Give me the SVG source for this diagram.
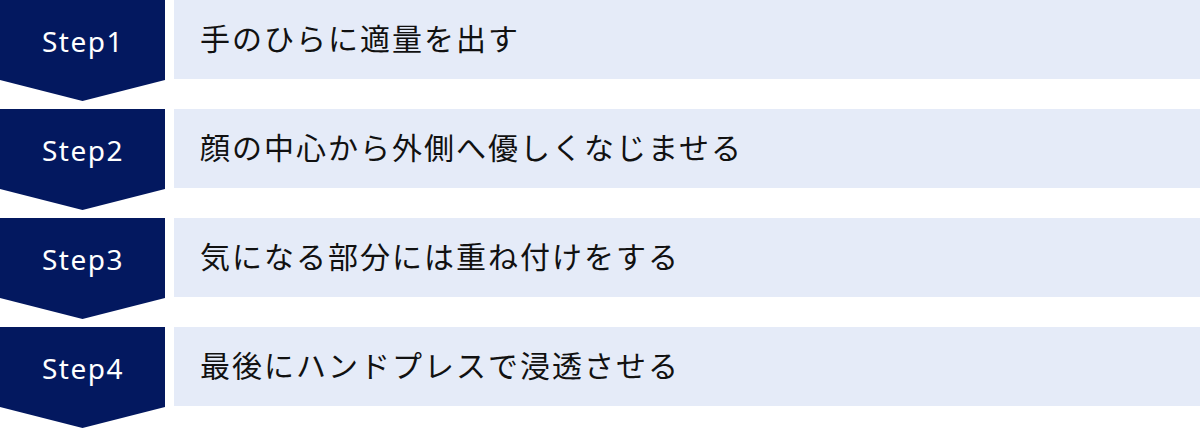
<svg xmlns="http://www.w3.org/2000/svg" width="1200" height="429" viewBox="0 0 1200 429">
<style>
.arrow{fill:#03185f}
.box{fill:#e5ebf8}
.step{font-family:"Noto Sans","DejaVu Sans",sans-serif;font-size:28px;fill:#ffffff;letter-spacing:1.5px}
.label{font-family:"Noto Sans CJK JP","Noto Sans",sans-serif;font-size:30px;fill:#111111;letter-spacing:2px}
</style>
<rect width="1200" height="429" fill="#ffffff"/>
<g id="step1">
<polygon class="arrow" points="0,0 165,0 165,80 82.5,101 0,80"/>
<rect class="box" x="174" y="0" width="1026" height="79"/>
<text class="step" x="42" y="52">Step1</text>
<text class="label" x="200" y="50">手のひらに適量を出す</text>
</g>
<g id="step2">
<polygon class="arrow" points="0,109 165,109 165,189 82.5,210 0,189"/>
<rect class="box" x="174" y="109" width="1026" height="79"/>
<text class="step" x="42" y="161">Step2</text>
<text class="label" x="200" y="159">顔の中心から外側へ優しくなじませる</text>
</g>
<g id="step3">
<polygon class="arrow" points="0,218 165,218 165,298 82.5,319 0,298"/>
<rect class="box" x="174" y="218" width="1026" height="79"/>
<text class="step" x="42" y="270">Step3</text>
<text class="label" x="200" y="268">気になる部分には重ね付けをする</text>
</g>
<g id="step4">
<polygon class="arrow" points="0,327 165,327 165,407 82.5,428 0,407"/>
<rect class="box" x="174" y="327" width="1026" height="79"/>
<text class="step" x="42" y="379">Step4</text>
<text class="label" x="200" y="377">最後にハンドプレスで浸透させる</text>
</g>
<g id="connectors"></g>
</svg>
